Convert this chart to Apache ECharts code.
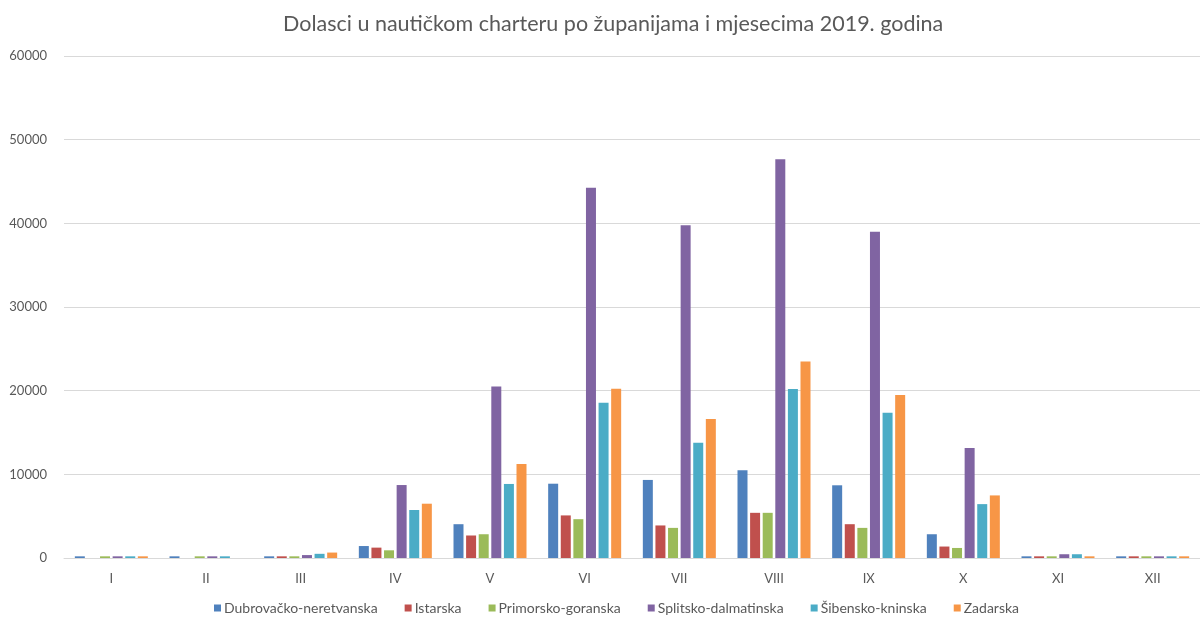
<!DOCTYPE html>
<html>
<head>
<meta charset="utf-8">
<script src="https://cdn.jsdelivr.net/npm/echarts@6/dist/echarts.min.js"></script>
<style>
  html, body { margin: 0; padding: 0; background: #fff; }
  #chart { width: 1200px; height: 617px; }
</style>
</head>
<body>
<div id="chart"></div>
<script>
const months = ['I', 'II', 'III', 'IV', 'V', 'VI', 'VII', 'VIII', 'IX', 'X', 'XI', 'XII']

const dubrovackoNeretvanska = [200, 200, 200, 1430, 4040, 8880, 9330, 10490, 8690, 2840, 200, 200]
const istarska = [0, 0, 200, 1240, 2690, 5090, 3890, 5400, 4040, 1370, 200, 200]
const primorskoGoranska = [200, 200, 200, 920, 2840, 4640, 3600, 5400, 3600, 1200, 200, 200]
const splitskoDalmatinska = [200, 200, 350, 8720, 20490, 44250, 39780, 47650, 39000, 13150, 450, 200]
const sibenskoKninska = [200, 200, 500, 5740, 8850, 18570, 13760, 20200, 17370, 6440, 450, 200]
const zadarska = [200, 0, 650, 6490, 11250, 20240, 16600, 23490, 19490, 7480, 200, 200]

const seriesNames = ['Dubrovačko-neretvanska', 'Istarska', 'Primorsko-goranska', 'Splitsko-dalmatinska', 'Šibensko-kninska', 'Zadarska']
const seriesData = [dubrovackoNeretvanska, istarska, primorskoGoranska, splitskoDalmatinska, sibenskoKninska, zadarska]
const colors = ['#4F81BD', '#C0504D', '#9BBB59', '#8064A2', '#4BACC6', '#F79646']

const font = 'Lato, "Open Sans", sans-serif'
const textColor = '#595959'

const chart = echarts.init(document.getElementById('chart'))

chart.setOption({
  animation: false,
  color: colors,
  title: {
    text: 'Dolasci u nautičkom charteru po županijama i mjesecima 2019. godina',
    left: 278,
    top: 8,
    textStyle: {
      fontFamily: font,
      fontSize: 21.5,
      fontWeight: 'normal',
      color: textColor
    }
  },
  legend: {
    top: 601,
    left: 214,
    padding: 0,
    itemWidth: 7,
    itemHeight: 7,
    itemGap: 27,
    icon: 'rect',
    textStyle: {
      fontFamily: font,
      fontSize: 14,
      color: textColor,
      padding: [0, 0, 0, -2]
    }
  },
  grid: {
    left: 64,
    top: 56,
    width: 1146,
    bottom: 59,
    containLabel: false
  },
  xAxis: {
    type: 'category',
    data: months,
    axisTick: { show: false },
    axisLine: { lineStyle: { color: '#d9d9d9', width: 1 } },
    axisLabel: {
      margin: 14,
      fontFamily: font,
      fontSize: 13,
      color: textColor
    }
  },
  yAxis: {
    type: 'value',
    min: 0,
    max: 60000,
    interval: 10000,
    axisLine: { show: false },
    axisTick: { show: false },
    splitLine: { lineStyle: { color: '#d9d9d9', width: 1 } },
    axisLabel: {
      margin: 17,
      fontFamily: font,
      fontSize: 13,
      color: textColor,
      formatter: v => String(v)
    }
  },
  series: seriesNames.map((name, i) => ({
    name: name,
    type: 'bar',
    data: seriesData[i],
    barWidth: 10,
    barGap: '26%'
  }))
})
</script>
</body>
</html>
